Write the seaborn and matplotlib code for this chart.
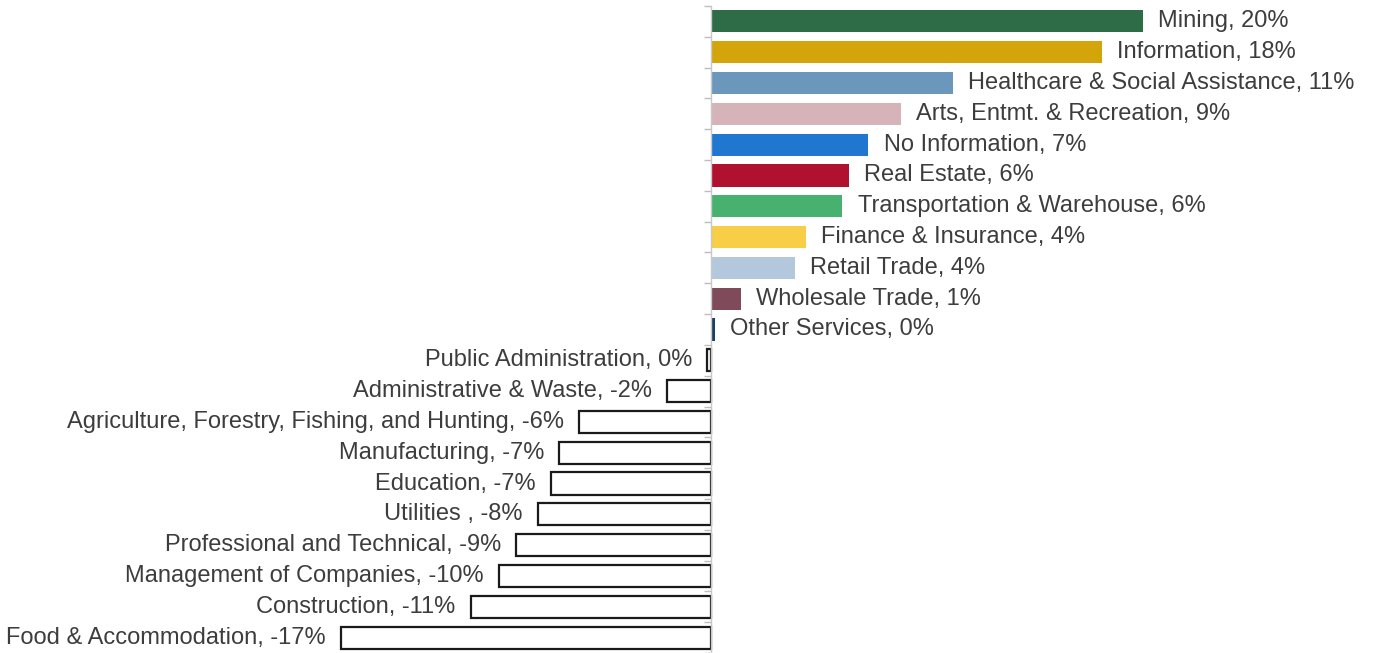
import numpy as np
import pandas as pd
import seaborn as sns
import matplotlib.pyplot as plt

# industries sorted from highest to lowest change
industries = ['Mining', 'Information', 'Healthcare & Social Assistance', 'Arts, Entmt. & Recreation',
              'No Information', 'Real Estate', 'Transportation & Warehouse', 'Finance & Insurance',
              'Retail Trade', 'Wholesale Trade', 'Other Services', 'Public Administration',
              'Administrative & Waste', 'Agriculture, Forestry, Fishing, and Hunting', 'Manufacturing',
              'Education', 'Utilities ', 'Professional and Technical', 'Management of Companies',
              'Construction', 'Food & Accommodation']
change = [20.0, 18.1, 11.2, 8.8, 7.3, 6.4, 6.1, 4.4, 3.9, 1.4, 0.2, -0.15,
          -2.0, -6.1, -7.0, -7.4, -8.0, -9.0, -9.8, -11.1, -17.1]
bar_colors = ['#2e6b47', '#d4a50a', '#6c97bd', '#d5b3b9', '#1f77d0', '#b0112e', '#47b26f',
              '#f7ce45', '#b4c8dd', '#7f4a5a', '#1c3f66']

df = pd.DataFrame({'industry': industries, 'change': change})
palette = {}
for i, name in enumerate(industries):
    palette[name] = bar_colors[i] if i < len(bar_colors) else 'white'

sns.set_style('white')
plt.rcParams['font.family'] = ['Liberation Sans', 'DejaVu Sans']

fig = plt.figure(figsize=(13.78, 6.53), dpi=100)
ax = fig.add_axes([0, 0, 1, 1 - 6 / 653])

sns.barplot(data=df, x='change', y='industry', hue='industry', palette=palette,
            legend=False, width=0.72, orient='h', ax=ax, saturation=1)

# negative bars drawn as outlines
for patch, v in zip(ax.patches, df['change']):
    if v < 0:
        patch.set_facecolor('white')
        patch.set_edgecolor('#1a1a1a')
        patch.set_linewidth(1.6)
    else:
        patch.set_edgecolor('none')

for i, (name, v) in enumerate(zip(df['industry'], df['change'])):
    txt = f"{name}, {int(round(v))}%"
    if v >= 0:
        ax.annotate(txt, (v, i), xytext=(11, 0), textcoords='offset points',
                    ha='left', va='center', fontsize=17, color='#3d3d3d')
    else:
        ax.annotate(txt, (v, i), xytext=(-11, 0), textcoords='offset points',
                    ha='right', va='center', fontsize=17, color='#3d3d3d')

ax.set_xlim(-32.9, 30.9)
ax.set_ylim(20.5, -0.5)
ax.set_xlabel('')
ax.set_ylabel('')
ax.set_xticks([])
ax.set_yticks(np.arange(-0.5, 21, 1))
ax.set_yticklabels([])
ax.tick_params(axis='y', direction='out', length=5, width=1, color='#bdbdbd', left=True)

for s in ['top', 'right', 'bottom']:
    ax.spines[s].set_visible(False)
ax.spines['left'].set_position(('data', 0))
ax.spines['left'].set_color('#c8c8c8')
ax.spines['left'].set_linewidth(1)

fig.savefig('out.png', dpi=100)
